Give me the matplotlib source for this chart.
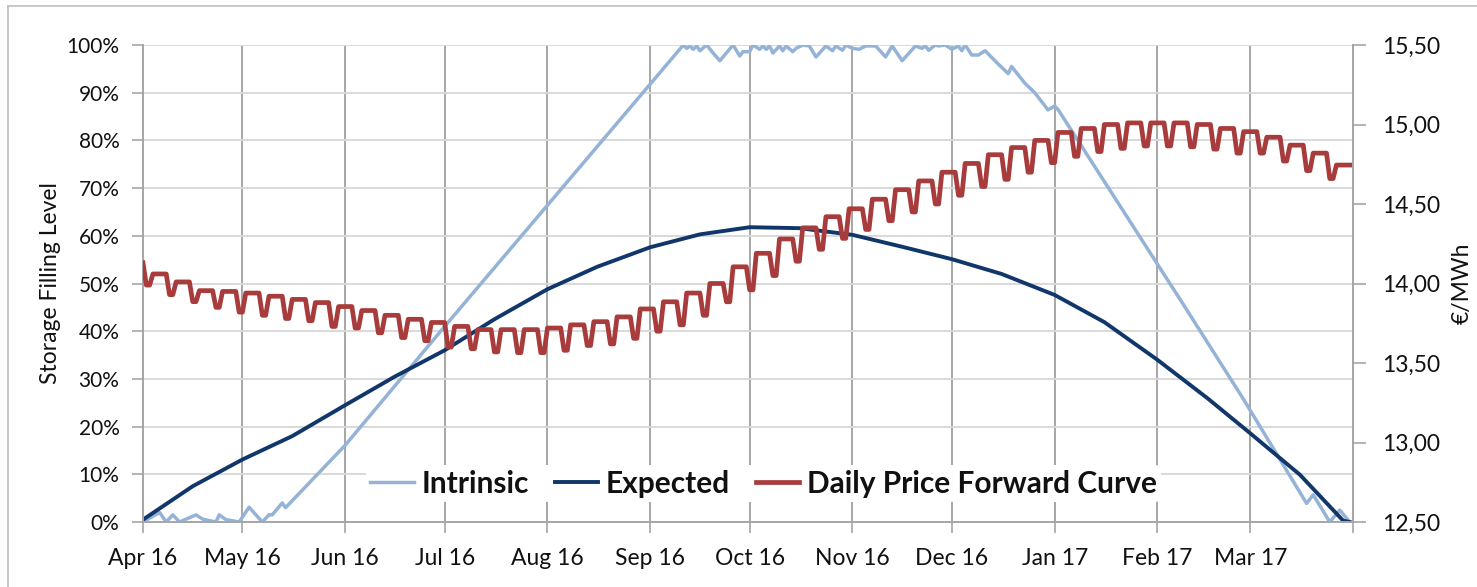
import matplotlib
matplotlib.use("Agg")
import matplotlib.pyplot as plt
from matplotlib.lines import Line2D
from matplotlib.ticker import FuncFormatter
import pandas as pd

plt.rcParams['font.family'] = ['Lato', 'DejaVu Sans']

START = pd.Timestamp('2016-04-01')
END = pd.Timestamp('2017-04-01')

# Daily Price Forward Curve (EUR/MWh), read week by week:
# weekday level (first entry = Fri 1 Apr) and the Sat/Sun dip that precedes each week
price_weekday = [14.13, 14.06, 14.01, 13.955, 13.95, 13.94, 13.92, 13.90, 13.88, 13.855,
                 13.83, 13.80, 13.775, 13.755, 13.73, 13.71, 13.71, 13.71, 13.72, 13.74,
                 13.76, 13.79, 13.84, 13.885, 13.94, 14.00, 14.105, 14.19, 14.28, 14.35,
                 14.42, 14.47, 14.53, 14.59, 14.645, 14.70, 14.755, 14.81, 14.855, 14.90,
                 14.95, 14.975, 15.00, 15.01, 15.01, 15.01, 15.00, 14.975, 14.955, 14.92,
                 14.87, 14.82, 14.745]
price_weekend = [13.99, 13.93, 13.886, 13.85, 13.82, 13.80, 13.78, 13.766, 13.73, 13.72,
                 13.69, 13.66, 13.64, 13.60, 13.59, 13.57, 13.565, 13.565, 13.58, 13.61,
                 13.62, 13.655, 13.70, 13.74, 13.80, 13.885, 13.96, 14.05, 14.14, 14.215,
                 14.284, 14.34, 14.395, 14.45, 14.50, 14.555, 14.61, 14.655, 14.70, 14.76,
                 14.80, 14.83, 14.85, 14.865, 14.865, 14.86, 14.845, 14.82, 14.82, 14.77,
                 14.71, 14.66]

# Expected storage level (%)
expected_dates = ['2016-04-01', '2016-04-16', '2016-05-01', '2016-05-16', '2016-06-01',
                  '2016-06-16', '2016-07-01', '2016-07-16', '2016-08-01', '2016-08-16',
                  '2016-09-01', '2016-09-16', '2016-10-01', '2016-10-16', '2016-11-01',
                  '2016-11-16', '2016-12-01', '2016-12-16', '2017-01-01', '2017-01-16',
                  '2017-02-01', '2017-02-16', '2017-03-01', '2017-03-16', '2017-03-29',
                  '2017-03-31']
expected_pct = [0.5, 7.5, 13.1, 18.0, 24.5, 30.5, 36.0, 42.5, 48.8, 53.5,
                57.6, 60.3, 61.8, 61.6, 60.2, 57.7, 55.1, 52.0, 47.6, 41.9,
                34.0, 26.0, 18.6, 9.9, 0.3, 0.0]

# Intrinsic storage level (%), days after 1 Apr 2016
intrinsic_day = [0, 5, 7, 9, 11, 16, 18, 22, 23, 25, 29, 32, 36, 38, 39, 42, 43, 61, 91, 163,
                 164, 165, 166, 167, 168, 170, 172, 174, 178, 180, 181, 183, 184, 186, 187,
                 188, 189, 190, 192, 193, 194, 196, 197, 199, 201, 203, 206, 208, 209, 211,
                 212, 214, 216, 218, 221, 224, 226, 229, 233, 235, 236, 237, 239, 240, 242,
                 244, 246, 247, 248, 250, 252, 254, 258, 261, 262, 266, 269, 273, 275, 276,
                 313, 332, 351, 353, 358, 361, 364]
intrinsic_pct = [0, 2, 0, 1.5, 0, 1.5, 0.6, 0, 1.5, 0.5, 0, 3.1, 0, 1.5, 1.5, 4, 3, 16.1, 41, 100,
                 99.3, 99.8, 99.1, 99.8, 98.8, 100, 98.3, 96.7, 100, 97.7, 98.6, 98.6, 100, 99.1, 99.8,
                 99.1, 99.8, 98.3, 99.8, 98.8, 99.8, 98.6, 99.3, 100, 99.8, 97.5, 99.8, 98.8, 99.8, 98.9,
                 100, 99.3, 99.1, 99.8, 99.8, 97.5, 99.8, 96.7, 99.8, 99.3, 99.8, 98.9, 100, 99.8, 100,
                 99.1, 99.8, 98.8, 100, 97.9, 97.9, 98.8, 96, 94, 95.5, 92, 90, 86.4, 87.2, 86.5,
                 46.5, 25.7, 3.9, 5.7, 0, 2.5, 0]

month_labels = ['Apr 16', 'May 16', 'Jun 16', 'Jul 16', 'Aug 16', 'Sep 16',
                'Oct 16', 'Nov 16', 'Dec 16', 'Jan 17', 'Feb 17', 'Mar 17', '']

# daily price series: Fri 1 Apr, then 52 x (Sat, Sun, Mon..Fri)
price_days = pd.date_range(START, '2017-03-31', freq='D')
price = [price_weekday[0]]
for we, wd in zip(price_weekend, price_weekday[1:]):
    price += [we, we] + [wd] * 5

intrinsic_dates = START + pd.to_timedelta(intrinsic_day, unit='D')

GRID_DARK = '#A6A6A6'
GRID_LIGHT = '#D9D9D9'
TEXT = '#111111'

fig = plt.figure(figsize=(14.77, 5.87), dpi=100)
ax = fig.add_axes([143 / 1477, 1 - 522 / 587, 1210 / 1477, 477 / 587])
ax2 = ax.twinx()

ax.plot(intrinsic_dates, intrinsic_pct, color='#95B3D7', lw=2.5, label='Intrinsic',
        solid_joinstyle='round')
ax.plot(pd.to_datetime(expected_dates), expected_pct, color='#10366A', lw=2.8,
        label='Expected')
ax2.plot(price_days, price, color='#A83B3B', lw=3.4, label='Daily Price Forward Curve')

ax.set_xlim(START, END)
ax.set_ylim(0, 100)
ax2.set_ylim(12.5, 15.5)

ax.set_xticks(pd.date_range(START, END, freq='MS'))
ax.set_xticklabels(month_labels)
ax.set_yticks(range(0, 101, 10))
ax.yaxis.set_major_formatter(FuncFormatter(lambda v, _: f"{v:.0f}%"))
ax2.set_yticks([12.5 + 0.5 * i for i in range(7)])
ax2.yaxis.set_major_formatter(FuncFormatter(lambda v, _: f"{v:.2f}".replace('.', ',')))

ax.set_axisbelow(True)
ax.grid(axis='y', color=GRID_LIGHT, lw=1.4)
ax.grid(axis='x', color=GRID_DARK, lw=1.4)

for a in (ax, ax2):
    a.spines['top'].set_visible(False)
    for s in ('left', 'right', 'bottom'):
        a.spines[s].set_color(GRID_DARK)
        a.spines[s].set_linewidth(1.4)
ax2.spines['left'].set_visible(False)
ax2.spines['bottom'].set_visible(False)

ax.tick_params(axis='y', length=8, color=GRID_DARK, width=1.2, labelsize=15, pad=9,
               labelcolor=TEXT)
ax.tick_params(axis='x', length=8, color=GRID_DARK, width=1.2, labelsize=16.5, pad=11,
               labelcolor=TEXT)
ax2.tick_params(axis='y', length=9, color=GRID_DARK, width=1.2, labelsize=16.5, pad=12,
                labelcolor=TEXT)

ax.set_ylabel('Storage Filling Level', fontsize=16.5, color=TEXT)
ax.yaxis.set_label_coords(-0.068, 0.5)
ax2.set_ylabel('€/MWh', fontsize=16.5, color=TEXT)
ax2.yaxis.set_label_coords(1.082, 0.5)

handles = ax.get_lines() + ax2.get_lines()
leg = ax2.legend(handles, [h.get_label() for h in handles], loc='center',
                 bbox_to_anchor=(0.513, 0.08), ncol=3, frameon=True,
                 prop={'weight': 'bold', 'size': 21.5}, handlelength=1.45,
                 handletextpad=0.27, columnspacing=0.85, borderpad=0.15)
leg.get_frame().set_facecolor('white')
leg.get_frame().set_edgecolor('none')
leg.get_frame().set_alpha(1)
for t in leg.get_texts():
    t.set_color(TEXT)

# outer chart frame
fig.add_artist(Line2D([8 / 1477, 1], [1 - 6 / 587] * 2, color='#BFBFBF', lw=1.2))
fig.add_artist(Line2D([8 / 1477] * 2, [0, 1 - 6 / 587], color='#BFBFBF', lw=1.2))

fig.savefig('out.png', dpi=100)
plt.close(fig)
